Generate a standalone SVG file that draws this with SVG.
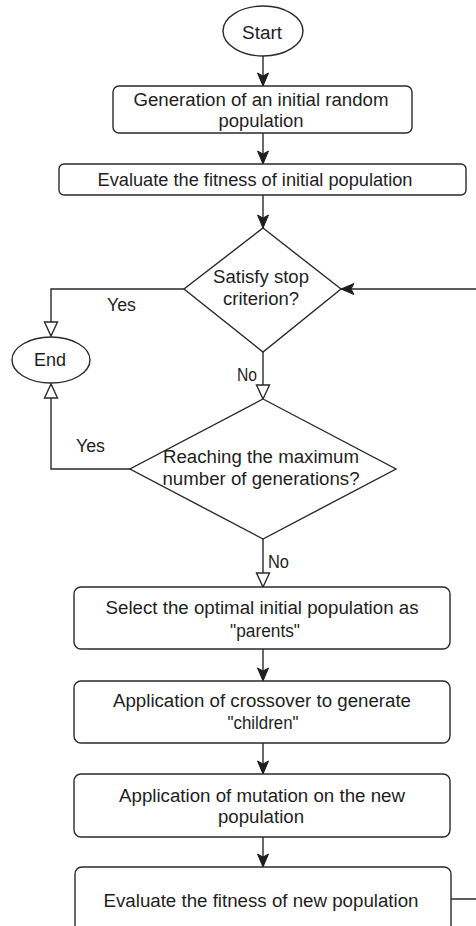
<svg xmlns="http://www.w3.org/2000/svg" width="476" height="926" viewBox="0 0 476 926">
<style>
.shape{fill:#fff;stroke:#2a2a2a;stroke-width:1.4}
.edge{fill:none;stroke:#2a2a2a;stroke-width:1.4}
text{font-family:"Liberation Sans",Arial,sans-serif;font-size:18px;fill:#1e1e1e;text-anchor:middle}
text.l{text-anchor:start}
</style>
<defs>
<marker id="fill" markerUnits="userSpaceOnUse" viewBox="-14 -7 15 14" refX="0" refY="0" markerWidth="15" markerHeight="14" orient="auto" overflow="visible">
<path d="M0,0 L-13,-5.5 L-10,0 L-13,5.5 Z" fill="#1e1e1e" stroke="#1e1e1e" stroke-width="1"/>
</marker>
<marker id="open" markerUnits="userSpaceOnUse" viewBox="-16 -8 17 16" refX="0" refY="0" markerWidth="17" markerHeight="16" orient="auto" overflow="visible">
<path d="M0,0 L-14,-6.5 L-14,6.5 Z" fill="#fff" stroke="#2a2a2a" stroke-width="1.4"/>
</marker>
</defs>
<g id="connectors">
<path class="edge" d="M263,55 V86" marker-end="url(#fill)"/>
<path class="edge" d="M263,133 V164" marker-end="url(#fill)"/>
<path class="edge" d="M263,195 V228" marker-end="url(#fill)"/>
<path class="edge" d="M184,289 H51 V336" marker-end="url(#open)"/>
<path class="edge" d="M263,352 V399" marker-end="url(#open)"/>
<path class="edge" d="M130,469 H51 V384" marker-end="url(#open)"/>
<path class="edge" d="M263,539 V587" marker-end="url(#open)"/>
<path class="edge" d="M263,649 V681" marker-end="url(#fill)"/>
<path class="edge" d="M263,743 V774" marker-end="url(#fill)"/>
<path class="edge" d="M263,837 V867" marker-end="url(#fill)"/>
<path class="edge" d="M451,899 H600 V289 H341" marker-end="url(#fill)"/>
<text class="l" x="107" y="311" textLength="29" lengthAdjust="spacingAndGlyphs">Yes</text>
<text class="l" x="237" y="381" textLength="20" lengthAdjust="spacingAndGlyphs">No</text>
<text class="l" x="76" y="452" textLength="29" lengthAdjust="spacingAndGlyphs">Yes</text>
<text class="l" x="268" y="568" textLength="21" lengthAdjust="spacingAndGlyphs">No</text>
</g>
<g id="start">
<ellipse class="shape" cx="263" cy="31" rx="40" ry="25"/>
<text x="262" y="39" textLength="40" lengthAdjust="spacingAndGlyphs">Start</text>
</g>
<g id="init">
<rect class="shape" x="113" y="86" width="299" height="47" rx="6"/>
<text x="261" y="106" textLength="255" lengthAdjust="spacingAndGlyphs">Generation of an initial random</text>
<text x="261" y="127" textLength="85" lengthAdjust="spacingAndGlyphs">population</text>
</g>
<g id="evalInit">
<rect class="shape" x="59" y="164" width="407" height="31" rx="5"/>
<text x="255" y="186" textLength="315" lengthAdjust="spacingAndGlyphs">Evaluate the fitness of initial population</text>
</g>
<g id="stopCheck">
<path class="shape" d="M263,228 L341,289 L263,352 L184,289 Z"/>
<text x="261" y="283" textLength="96" lengthAdjust="spacingAndGlyphs">Satisfy stop</text>
<text x="261" y="305" textLength="76" lengthAdjust="spacingAndGlyphs">criterion?</text>
</g>
<g id="end">
<ellipse class="shape" cx="51" cy="360" rx="39" ry="23"/>
<text x="50" y="366" textLength="32" lengthAdjust="spacingAndGlyphs">End</text>
</g>
<g id="maxGen">
<path class="shape" d="M263,399 L396,469 L263,539 L130,469 Z"/>
<text x="261" y="463" textLength="196" lengthAdjust="spacingAndGlyphs">Reaching the maximum</text>
<text x="261" y="485" textLength="197" lengthAdjust="spacingAndGlyphs">number of generations?</text>
</g>
<g id="select">
<rect class="shape" x="74" y="587" width="376" height="62" rx="7"/>
<text x="262" y="614" textLength="313" lengthAdjust="spacingAndGlyphs">Select the optimal initial population as</text>
<text x="265" y="637" textLength="70" lengthAdjust="spacingAndGlyphs">"parents"</text>
</g>
<g id="crossover">
<rect class="shape" x="74" y="681" width="376" height="62" rx="7"/>
<text x="262" y="707" textLength="298" lengthAdjust="spacingAndGlyphs">Application of crossover to generate</text>
<text x="263" y="729" textLength="71" lengthAdjust="spacingAndGlyphs">"children"</text>
</g>
<g id="mutation">
<rect class="shape" x="74" y="774" width="376" height="63" rx="7"/>
<text x="262" y="802" textLength="286" lengthAdjust="spacingAndGlyphs">Application of mutation on the new</text>
<text x="261" y="823" textLength="86" lengthAdjust="spacingAndGlyphs">population</text>
</g>
<g id="evalNew">
<rect class="shape" x="75" y="867" width="376" height="70" rx="7"/>
<text x="261" y="907" textLength="315" lengthAdjust="spacingAndGlyphs">Evaluate the fitness of new population</text>
</g>
</svg>
